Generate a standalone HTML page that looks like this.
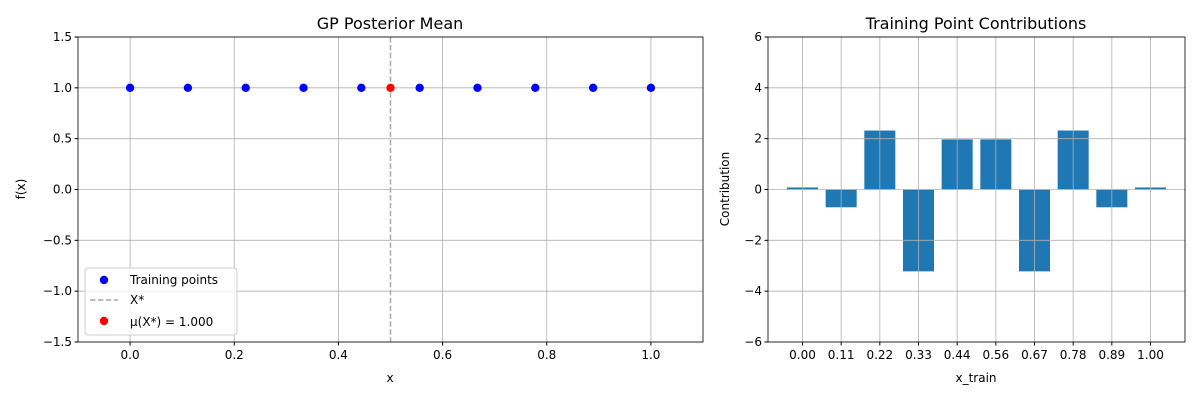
<!DOCTYPE html>
<html><head><meta charset="utf-8"><style>
body{margin:0;background:#fff;font-family:"Liberation Sans","DejaVu Sans",sans-serif;}
svg text{font-family:"DejaVu Sans","Liberation Sans",sans-serif;font-size:12px;fill:#000}
</style></head><body>
<svg id="c" width="1200" height="400" xmlns="http://www.w3.org/2000/svg"></svg>
<script>
const trainX=[0,0.111,0.222,0.333,0.444,0.556,0.667,0.778,0.889,1.0];
const trainY=[1,1,1,1,1,1,1,1,1,1];
const xStar=0.5, muStar=1.0;
const leftXTicks=[0,0.2,0.4,0.6,0.8,1.0];
const leftYTicks=[-1.5,-1.0,-0.5,0.0,0.5,1.0,1.5];
const barCats=["0.00","0.11","0.22","0.33","0.44","0.56","0.67","0.78","0.89","1.00"];
const barVals=[0.08,-0.7,2.32,-3.22,1.97,1.97,-3.22,2.32,-0.7,0.08];
const rightYTicks=[-6,-4,-2,0,2,4,6];

const svg=document.getElementById('c');
const NS='http://www.w3.org/2000/svg';
function mk(t,a,p){const e=document.createElementNS(NS,t);for(const k in a)e.setAttribute(k,a[k]);(p||svg).appendChild(e);return e;}
function txt(s,x,y,anchor,size,p){const e=mk('text',{x:x,y:y,'text-anchor':anchor||'middle'},p);if(size)e.setAttribute('style','font-size:'+size+'px');e.textContent=s;return e;}

// Left axes
const L={x0:78,x1:703,y0:37,y1:342};
const lx=v=>L.x0+(v+0.1)/1.2*(L.x1-L.x0);
const ly=v=>L.y1-(v+1.5)/3*(L.y1-L.y0);
const gl=mk('g',{});


leftXTicks.forEach(t=>{const X=lx(t);mk('line',{x1:X,x2:X,y1:L.y0,y2:L.y1,stroke:'#b0b0b0','stroke-width':0.8},gl);mk('line',{x1:X,x2:X,y1:L.y1,y2:L.y1+3.5,stroke:'#000'});const e=txt(t.toFixed(1),X,L.y1+17);});
leftYTicks.forEach(t=>{const Y=ly(t);mk('line',{x1:L.x0,x2:L.x1,y1:Y,y2:Y,stroke:'#b0b0b0','stroke-width':0.8},gl);mk('line',{x1:L.x0-3.5,x2:L.x0,y1:Y,y2:Y,stroke:'#000'});const e=txt(t.toFixed(1).replace('-','−'),L.x0-6,Y+4,'end');});
const xs=mk('line',{x1:lx(xStar),x2:lx(xStar),y1:L.y0,y2:L.y1,stroke:'#a9a9a9','stroke-width':1.5,'stroke-dasharray':'5.5,2.4'});

trainX.forEach((v,i)=>{const c=mk('circle',{cx:lx(v),cy:ly(trainY[i]),r:4.2,fill:'#0000ff'});});
const ms=mk('circle',{cx:lx(xStar),cy:ly(muStar),r:4.2,fill:'#ff0000'});

const lb=mk('rect',{x:L.x0,y:L.y0,width:L.x1-L.x0,height:L.y1-L.y0,fill:'none',stroke:'#000','stroke-width':0.8});

let e=txt('GP Posterior Mean',390,29,'middle',16);
e=txt('x',390,382);
e=mk('text',{x:0,y:0,'text-anchor':'middle',transform:'translate(25,189) rotate(-90)'});e.textContent='f(x)';

// legend
const lg=mk('g',{});
mk('rect',{x:85,y:268,width:152,height:67,rx:3,fill:'#fff','fill-opacity':0.8,stroke:'#ccc'},lg);
mk('circle',{cx:104,cy:280,r:4.2,fill:'#0000ff'},lg);txt('Training points',130,284,'start',null,lg);
mk('line',{x1:90,x2:118,y1:300,y2:300,stroke:'#a9a9a9','stroke-width':1.5,'stroke-dasharray':'5.5,2.4'},lg);txt('X*',130,304,'start',null,lg);
mk('circle',{cx:104,cy:321,r:4.2,fill:'#ff0000'},lg);txt('μ(X*) = 1.000',130,326,'start',null,lg);

// Right axes
const R={x0:768,x1:1185,y0:37,y1:342};
const rx=i=>802.5+i*(1150.5-802.5)/(barCats.length-1);
const ry=v=>R.y1-(v+6)/12*(R.y1-R.y0);
const bw=31;
const gr=mk('g',{});
rightYTicks.forEach(t=>{const Y=ry(t);mk('line',{x1:R.x0,x2:R.x1,y1:Y,y2:Y,stroke:'#b0b0b0','stroke-width':0.8},gr);mk('line',{x1:R.x0-3.5,x2:R.x0,y1:Y,y2:Y,stroke:'#000'});const q=txt(String(t).replace('-','−'),R.x0-6,Y+4,'end');});
barVals.forEach((v,i)=>{const X=rx(i);const top=Math.min(ry(v),ry(0));const b=mk('rect',{x:X-bw/2,y:top,width:bw,height:Math.abs(ry(v)-ry(0)),fill:'#1f77b4'});});
barCats.forEach((c,i)=>{const X=rx(i);mk('line',{x1:X,x2:X,y1:R.y0,y2:R.y1,stroke:'#b0b0b0','stroke-width':0.8},gr);mk('line',{x1:X,x2:X,y1:R.y1,y2:R.y1+3.5,stroke:'#000'});const q=txt(c,X,R.y1+17);});
svg.appendChild(gr);
const rb=mk('rect',{x:R.x0,y:R.y0,width:R.x1-R.x0,height:R.y1-R.y0,fill:'none',stroke:'#000','stroke-width':0.8});

e=txt('Training Point Contributions',976,29,'middle',16);
e=txt('x_train',976,382);
e=mk('text',{x:0,y:0,'text-anchor':'middle',transform:'translate(729,189) rotate(-90)'});e.textContent='Contribution';

</script>
</body></html>
